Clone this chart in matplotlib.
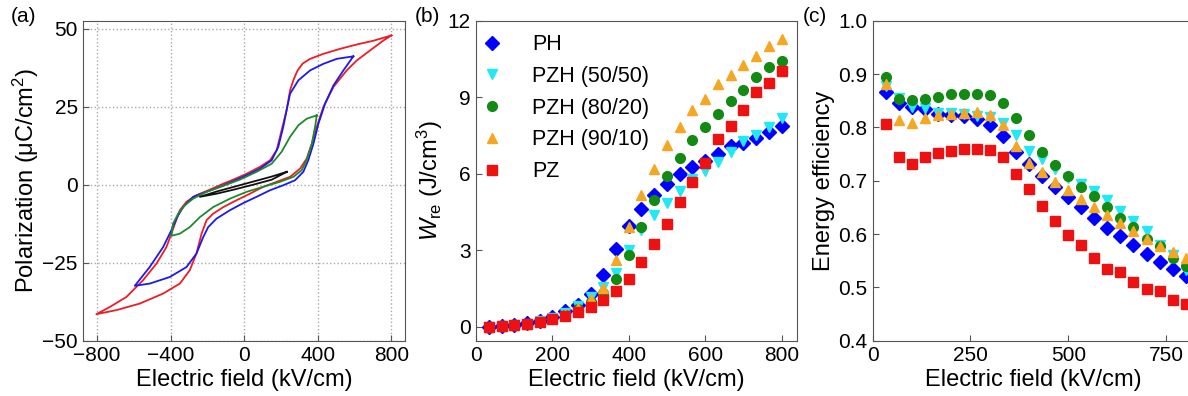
import numpy as np
import matplotlib
matplotlib.use('Agg')
import matplotlib.pyplot as plt

plt.rcParams['font.family'] = ['Liberation Sans', 'DejaVu Sans']
plt.rcParams['mathtext.fontset'] = 'custom'
plt.rcParams['mathtext.rm'] = 'Liberation Sans'
plt.rcParams['mathtext.it'] = 'Liberation Sans:italic'
plt.rcParams['axes.unicode_minus'] = True

# ---------------- (a) P-E loops (upper branch then lower branch) ----------------
red_E = [800, 702, 612, 521, 430, 358, 318, 290, 268, 249, 230, 203, 176, 140, 85, 13, -60, -114, -187, -260, -314,
         -350, -377, -396, -423, -477, -550, -641, -731, -804,
         -695, -568, -441, -350, -296, -260, -232, -205, -169, -114, -42, 31, 103, 176, 249, 303, 339, 367,
         394, 430, 485, 557, 612, 684, 757, 800]
red_P = [47.8, 46.1, 44.9, 43.5, 41.9, 40.3, 38.8, 36.6, 33.6, 30.2, 23.8, 17.4, 11.0, 7.8, 5.7, 3.5, 1.6, 0.3, -1.6, -3.4, -5.5,
         -8.2, -12.5, -15.7, -20.0, -25.3, -30.6, -36.0, -39.2, -41.5,
         -40.2, -38.1, -34.9, -31.7, -27.4, -22.1, -15.7, -11.4, -9.3, -7.2, -5.0, -2.9, -0.7, 0.9, 2.5, 5.1, 8.3, 13.1,
         18.5, 24.9, 31.3, 36.6, 39.8, 43.0, 46.2, 47.8]

blue_E = [593, 503, 430, 358, 294, 249, 230, 212, 185, 149, 85, 13, -60, -132, -205, -278, -332, -365, -396, -441,
          -514, -595,
          -514, -405, -314, -260, -223, -196, -151, -78, -5, 67, 140, 212, 276, 321, 348, 376, 403, 439, 485, 539, 593]
blue_P = [41.1, 40.3, 38.7, 36.6, 33.4, 29.1, 23.8, 18.5, 12.1, 7.8, 5.1, 3.0, 1.1, -0.7, -2.3, -3.9, -7.2, -10.4, -14.6, -20.0,
          -26.4, -32.4,
          -31.7, -29.6, -26.4, -22.1, -16.8, -13.6, -10.9, -8.2, -5.9, -3.9, -1.8, -0.2, 1.4, 4.1, 7.8, 13.1, 19.5, 25.9, 31.8, 36.6, 41.1]

green_E = [394, 339, 294, 249, 203, 149, 67, -24, -114, -205, -278, -323, -359, -387, -396,
           -350, -296, -241, -169, -78, 13, 103, 194, 267, 312, 339, 367, 385, 394]
green_P = [22.2, 21.1, 19.0, 15.3, 10.5, 6.7, 4.1, 1.6, -0.4, -2.3, -4.5, -6.6, -9.3, -12.5, -16.4,
           -15.7, -13.6, -10.4, -7.2, -4.5, -2.3, -0.7, 0.9, 2.5, 4.6, 7.8, 13.1, 18.5, 22.2]

black_E = [231, 150, 50, -50, -150, -241, -150, -50, 50, 150, 231]
black_P = [4.1, 2.6, 1.0, -0.6, -2.2, -3.9, -2.9, -1.5, 0.0, 1.6, 4.1]

# ---------------- (b) & (c) : field steps ----------------
field = [33.3, 66.7, 100, 133.3, 166.7, 200, 233.3, 266.7, 300, 333.3, 366.7, 400,
         433.3, 466.7, 500, 533.3, 566.7, 600, 633.3, 666.7, 700, 733.3, 766.7, 800]

Wre_PH = [0, 0.03, 0.07, 0.13, 0.24, 0.39, 0.61, 0.85, 1.28, 2.02, 3.03, 3.94,
          4.63, 5.15, 5.61, 6.0, 6.27, 6.5, 6.77, 7.08, 7.2, 7.41, 7.63, 7.88]
Wre_5050 = [0, 0.03, 0.06, 0.12, 0.21, 0.35, 0.55, 0.8, 1.15, 1.55, 2.09, 3.0,
            3.78, 4.37, 4.85, 5.32, 5.8, 6.1, 6.46, 6.85, 7.27, 7.5, 7.85, 8.18]
Wre_8020 = [0, 0.02, 0.06, 0.11, 0.2, 0.31, 0.47, 0.68, 0.95, 1.31, 1.87, 2.82,
            3.91, 4.96, 5.9, 6.61, 7.31, 7.83, 8.35, 8.87, 9.29, 9.78, 10.2, 10.44]
Wre_9010 = [0, 0.02, 0.06, 0.12, 0.21, 0.33, 0.5, 0.75, 1.07, 1.53, 2.61, 3.9,
            5.15, 6.2, 7.14, 7.85, 8.48, 8.94, 9.5, 9.88, 10.28, 10.63, 11.0, 11.27]
Wre_PZ = [0, 0.02, 0.05, 0.1, 0.18, 0.31, 0.42, 0.59, 0.78, 1.04, 1.41, 1.89,
          2.52, 3.24, 4.02, 4.89, 5.67, 6.42, 7.35, 7.89, 8.48, 9.2, 9.55, 10.02]

eta_PH = [0.867, 0.846, 0.838, 0.835, 0.825, 0.823, 0.822, 0.815, 0.805, 0.783, 0.754, 0.731,
          0.708, 0.688, 0.669, 0.65, 0.63, 0.612, 0.596, 0.579, 0.562, 0.547, 0.535, 0.522]
eta_5050 = [0.878, 0.855, 0.838, 0.836, 0.827, 0.827, 0.826, 0.822, 0.82, 0.808, 0.785, 0.756,
            0.74, 0.722, 0.705, 0.693, 0.68, 0.663, 0.644, 0.625, 0.605, 0.58, 0.56, 0.533]
eta_8020 = [0.894, 0.854, 0.851, 0.854, 0.857, 0.863, 0.863, 0.862, 0.86, 0.846, 0.818, 0.785,
            0.754, 0.73, 0.709, 0.689, 0.672, 0.65, 0.631, 0.613, 0.591, 0.577, 0.555, 0.54]
eta_9010 = [0.882, 0.813, 0.808, 0.818, 0.824, 0.826, 0.827, 0.829, 0.824, 0.805, 0.765, 0.734,
            0.717, 0.697, 0.683, 0.665, 0.651, 0.635, 0.621, 0.606, 0.591, 0.577, 0.566, 0.555]
eta_PZ = [0.807, 0.745, 0.731, 0.745, 0.752, 0.756, 0.76, 0.76, 0.757, 0.745, 0.713, 0.684,
          0.653, 0.625, 0.598, 0.579, 0.555, 0.535, 0.528, 0.511, 0.497, 0.494, 0.477, 0.469]

names = ['PH', 'PZH (50/50)', 'PZH (80/20)', 'PZH (90/10)', 'PZ']
colors = ['#0000ff', '#22e8f5', '#138a13', '#f5a623', '#ee1111']
markers = ['D', 'v', 'o', '^', 's']
msizes = [6.8, 7, 7, 7, 6.5]

tick_size = 15
label_size = 17

fig = plt.figure(figsize=(11.88, 3.96), dpi=100)
ax1 = fig.add_axes([0.0701, 0.1396, 0.271, 0.808])
ax2 = fig.add_axes([0.4007, 0.1396, 0.270, 0.808])
ax3 = fig.add_axes([0.7346, 0.1396, 0.270, 0.808])

for ax in (ax1, ax2, ax3):
    ax.tick_params(direction='in', labelsize=tick_size, pad=4, length=4, color='#555555')
    for s in ax.spines.values():
        s.set_color('#555555')

# (a)
ax1.plot(red_E, red_P, color='#ee1c25', lw=1.3)
ax1.plot(blue_E, blue_P, color='#1a1aee', lw=1.3)
ax1.plot(green_E, green_P, color='#1f8a2a', lw=1.3)
ax1.plot(black_E, black_P, color='#111111', lw=1.3)
ax1.set_xlim(-875, 875)
ax1.set_ylim(-50, 52.5)
ax1.set_xticks([-800, -400, 0, 400, 800])
ax1.set_yticks([-50, -25, 0, 25, 50])
ax1.grid(True, linestyle=':', color='#aaaaaa', linewidth=1)
ax1.set_xlabel('Electric field (kV/cm)', fontsize=label_size, labelpad=3)
ax1.set_ylabel('Polarization (μC/cm$^2$)', fontsize=label_size, labelpad=1)

# (b)
wre = [Wre_PH, Wre_5050, Wre_8020, Wre_9010, Wre_PZ]
for i in range(5):
    ax2.plot(field, wre[i], linestyle='none', marker=markers[i], ms=msizes[i],
             color=colors[i], label=names[i])
ax2.set_xlim(0, 840)
ax2.set_ylim(-0.55, 12)
ax2.set_xticks([0, 200, 400, 600, 800])
ax2.set_yticks([0, 3, 6, 9, 12])
ax2.set_xlabel('Electric field (kV/cm)', fontsize=label_size, labelpad=3)
ax2.set_ylabel(r'$W_{\mathrm{re}}$ (J/cm$^3$)', fontsize=label_size, labelpad=2)
ax2.legend(loc='upper left', frameon=False, fontsize=15.5, handlelength=1.0,
           handletextpad=1.35, labelspacing=0.5, borderaxespad=0, bbox_to_anchor=(-0.01, 0.985))

# (c)
eta = [eta_PH, eta_5050, eta_8020, eta_9010, eta_PZ]
for i in range(5):
    ax3.plot(field, eta[i], linestyle='none', marker=markers[i], ms=msizes[i],
             color=colors[i], label=names[i])
ax3.set_xlim(0, 820)
ax3.set_ylim(0.4, 1.0)
ax3.set_xticks([0, 250, 500, 750])
ax3.set_yticks([0.4, 0.5, 0.6, 0.7, 0.8, 0.9, 1.0])
ax3.set_xlabel('Electric field (kV/cm)', fontsize=label_size, labelpad=3)
ax3.set_ylabel('Energy efficiency', fontsize=label_size, labelpad=2)

fig.text(0.009, 0.958, '(a)', fontsize=tick_size, va='center')
fig.text(0.349, 0.958, '(b)', fontsize=tick_size, va='center')
fig.text(0.676, 0.958, '(c)', fontsize=tick_size, va='center')

fig.savefig('out.png', dpi=100)
